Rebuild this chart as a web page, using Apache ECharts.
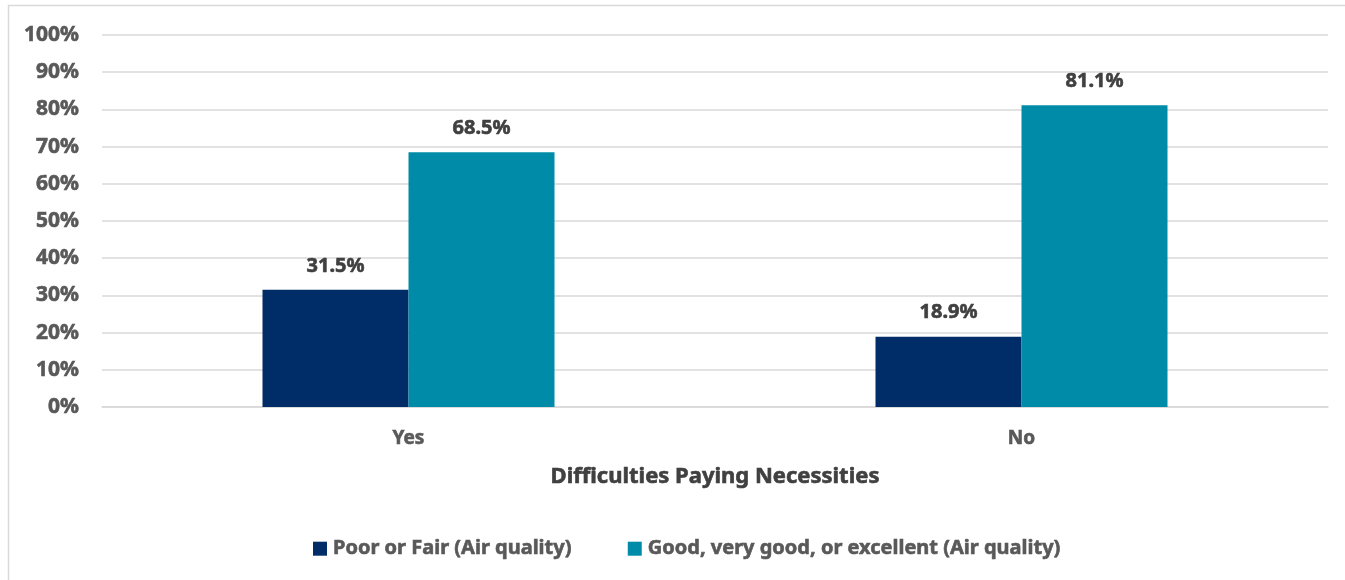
<!DOCTYPE html>
<html>
<head>
<meta charset="utf-8">
<script src="https://cdn.jsdelivr.net/npm/echarts@6/dist/echarts.min.js"></script>
<style>
  html, body { margin: 0; padding: 0; background: #ffffff; }
  #chart { width: 1345px; height: 580px; }
</style>
</head>
<body>
<div id="chart"></div>
<script>
// Share of respondents rating local air quality, by difficulty paying necessities
const categories = ['Yes', 'No'];
const poorOrFair = [31.5, 18.9];
const goodOrBetter = [68.5, 81.1];
const seriesNames = ['Poor or Fair (Air quality)', 'Good, very good, or excellent (Air quality)'];
const axisTitle = 'Difficulties Paying Necessities';
const yTicks = { min: 0, max: 100, step: 10 };

const FONT = '"Noto Sans", "Open Sans", sans-serif';
const GREY = '#595959';
const DARK = '#404040';
const chart = echarts.init(document.getElementById('chart'));

// bold text with a thin outline in its own colour for a heavier stroke
function boldText(size, color) {
  return {
    fontFamily: FONT,
    fontWeight: 'bold',
    fontSize: size,
    color: color,
    textBorderColor: color,
    textBorderWidth: 0.6
  };
}

const labelStyle = Object.assign({
  show: true,
  position: 'top',
  distance: 14,
  formatter: p => p.value.toFixed(1) + '%'
}, boldText(20, DARK));

chart.setOption({
  animation: false,
  textStyle: { fontFamily: FONT },
  graphic: [{
    type: 'rect',
    silent: true,
    shape: { x: 8.5, y: 5.5, width: 1400, height: 620 },
    style: { fill: 'none', stroke: '#d9d9d9', lineWidth: 1.5 }
  }],
  grid: { left: 102, right: 17, top: 35, bottom: 173 },
  legend: {
    data: seriesNames,
    bottom: 16,
    left: 308,
    icon: 'rect',
    itemWidth: 14,
    itemHeight: 14,
    itemGap: 56,
    textStyle: Object.assign(boldText(20, GREY), { padding: [0, 0, 0, 1] })
  },
  xAxis: {
    type: 'category',
    data: categories,
    name: axisTitle,
    nameLocation: 'middle',
    nameGap: 59,
    nameTextStyle: boldText(22, DARK),
    axisLine: { show: true, lineStyle: { color: '#d9d9d9', width: 1.5 } },
    axisTick: { show: false },
    axisLabel: Object.assign({ margin: 22 }, boldText(19, GREY))
  },
  yAxis: {
    type: 'value',
    min: yTicks.min,
    max: yTicks.max,
    interval: yTicks.step,
    axisLine: { show: false },
    axisTick: { show: false },
    splitLine: { lineStyle: { color: '#d9d9d9', width: 1.5 } },
    axisLabel: Object.assign({ margin: 23, formatter: '{value}%' }, boldText(21, GREY))
  },
  series: [
    {
      name: seriesNames[0],
      type: 'bar',
      data: poorOrFair,
      barWidth: 146,
      barGap: '0%',
      itemStyle: { color: '#002d67' },
      label: labelStyle
    },
    {
      name: seriesNames[1],
      type: 'bar',
      data: goodOrBetter,
      barWidth: 146,
      barGap: '0%',
      itemStyle: { color: '#008ca8' },
      label: labelStyle
    }
  ]
});
</script>
</body>
</html>
